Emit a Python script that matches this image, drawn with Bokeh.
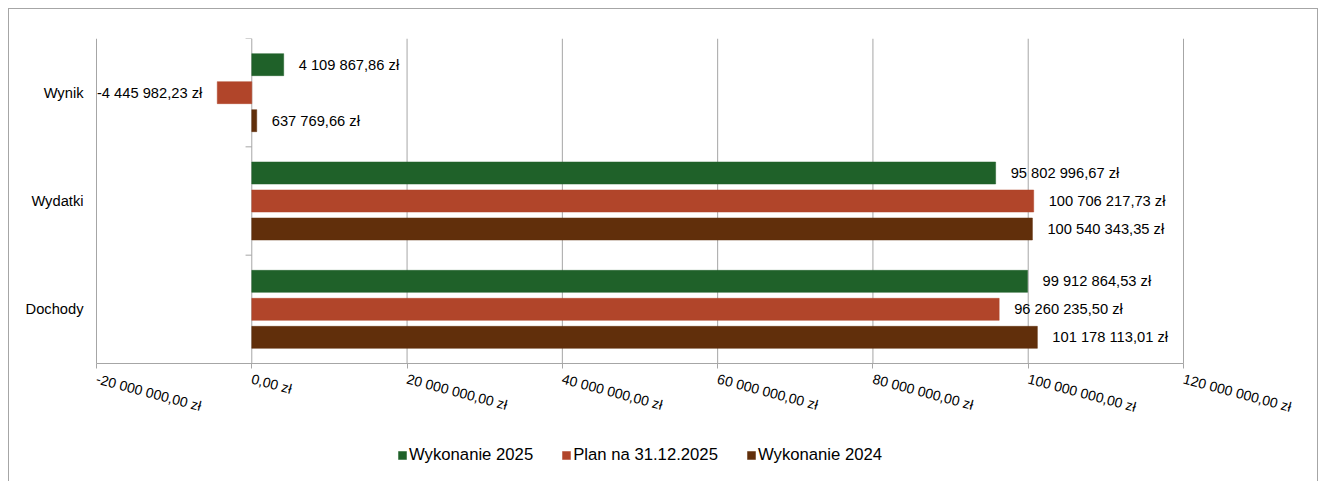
from bokeh.plotting import figure
from bokeh.models import (ColumnDataSource, FixedTicker, Range1d,
                          Legend, LegendItem)
from bokeh.core.properties import value
from bokeh.embed import file_html
from bokeh.resources import INLINE

# ---- data ----
categories = ["Dochody", "Wydatki", "Wynik"]          # bottom to top
series_names = ["Wykonanie 2025", "Plan na 31.12.2025", "Wykonanie 2024"]
wykonanie_2025 = [99912864.53, 95802996.67, 4109867.86]
plan_2025 = [96260235.50, 100706217.73, -4445982.23]
wykonanie_2024 = [101178113.01, 100540343.35, 637769.66]
tick_values = [-20000000, 0, 20000000, 40000000, 60000000, 80000000, 100000000, 120000000]
tick_labels = ["-20 000 000,00 zł", "0,00 zł", "20 000 000,00 zł", "40 000 000,00 zł",
               "60 000 000,00 zł", "80 000 000,00 zł", "100 000 000,00 zł", "120 000 000,00 zł"]

colors = ["#1f6129", "#b1452a", "#612f0b"]
FONT = "Liberation Sans"
GRID = "#a6a6a6"

# ---- layout constants ----
PLOT_H = 325          # pixel height of the category area
FRAME_H = 443         # frame extends below to hold the axis labels and legend
EXTRA_R = 132         # extra frame pixels on the right for the last tick label
FRAME_W = 1089 + EXTRA_R
PX = 140000000 / 1087  # data units per pixel
N = len(categories)
Y0 = -N * (FRAME_H - PLOT_H) / PLOT_H
UNIT = PLOT_H / N     # pixels per category
offsets = [28 / UNIT, 0.0, -28 / UNIT]
BAR_H = 22 / UNIT

cat_pos = [i + 0.5 for i in range(N)]
cat_bounds = [i + 1 for i in range(N)]


def pln(v):
    s = f"{abs(v):,.2f}".replace(",", " ").replace(".", ",")
    return ("-" if v < 0 else "") + s + " zł"


p = figure(frame_width=FRAME_W, frame_height=FRAME_H,
           x_range=Range1d(tick_values[0] - PX, tick_values[-1] + PX * (1 + EXTRA_R)),
           y_range=Range1d(Y0, N),
           output_backend="svg", toolbar_location=None,
           min_border_left=86, min_border_right=1, min_border_top=29, min_border_bottom=0,
           styles={"margin-left": "8px", "margin-top": "8px",
                   "border-left": "1px solid #a6a6a6", "border-top": "1px solid #a6a6a6",
                   "border-right": "1px solid #a6a6a6"})
p.outline_line_color = None
p.background_fill_color = "white"
p.border_fill_color = "white"
p.xgrid.grid_line_color = None
p.ygrid.grid_line_color = None

# vertical gridlines only over the category area
gsrc = ColumnDataSource(dict(x=tick_values, y0=[0] * len(tick_values), y1=[N] * len(tick_values)))
p.segment(x0="x", x1="x", y0="y0", y1="y1", source=gsrc, line_color=GRID, line_width=1)

# x axis drawn at the bottom of the category area
xa = p.xaxis[0]
xa.fixed_location = 0
xa.bounds = (tick_values[0], tick_values[-1])
xa.ticker = FixedTicker(ticks=tick_values)
xa.major_label_overrides = {v: l for v, l in zip(tick_values, tick_labels)}
xa.major_label_orientation = -0.26
xa.axis_line_color = GRID
xa.major_tick_line_color = GRID
xa.minor_tick_line_color = None
xa.major_tick_out = 5
xa.major_tick_in = 0
xa.major_label_standoff = 10
xa.major_label_text_font = FONT
xa.major_label_text_font_size = "14px"
xa.major_label_text_color = "black"

# y axis: category names
ya = p.yaxis[0]
ya.ticker = FixedTicker(ticks=cat_pos)
ya.major_label_overrides = {v: c for v, c in zip(cat_pos, categories)}
ya.axis_line_color = None
ya.major_tick_line_color = None
ya.minor_tick_line_color = None
ya.major_label_standoff = 6
ya.major_label_text_font = FONT
ya.major_label_text_font_size = "14.7px"
ya.major_label_text_color = "black"

# category boundary ticks on the zero line
bsrc = ColumnDataSource(dict(y=cat_bounds, x0=[-800000] * N, x1=[0] * N))
p.segment(x0="x0", x1="x1", y0="y", y1="y", source=bsrc, line_color=GRID, line_width=1)

items = []
for name, vals, col, off in zip(series_names, [wykonanie_2025, plan_2025, wykonanie_2024], colors, offsets):
    src = ColumnDataSource(dict(
        y=[c + off for c in cat_pos], val=vals, label=[pln(v) for v in vals],
        xoff=[15 if v >= 0 else -15 for v in vals],
        align=["left" if v >= 0 else "right" for v in vals],
    ))
    r = p.hbar(y="y", right="val", left=0, height=BAR_H,
               source=src, fill_color=col, line_color=col, line_alpha=0.5)
    p.text(x="val", y="y", text="label", source=src,
           x_offset="xoff", text_align="align", text_baseline="middle",
           text_font=value(FONT), text_font_size=value("14.7px"), text_color="black")
    items.append(LegendItem(label=name, renderers=[r]))

legend = Legend(items=items, orientation="horizontal", location=(302, 16),
                glyph_width=10, glyph_height=10, label_standoff=2, spacing=28,
                label_text_font=FONT, label_text_font_size="16.7px",
                label_text_color="black", border_line_color=None,
                background_fill_alpha=0, margin=0, padding=0)
p.add_layout(legend, "center")

open("out.html", "w").write(file_html(p, INLINE))
